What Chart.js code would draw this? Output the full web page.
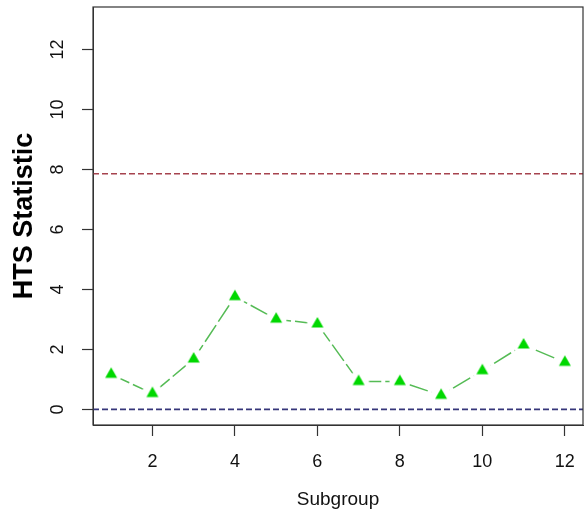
<!DOCTYPE html>
<html>
<head>
<meta charset="utf-8">
<script src="https://cdn.jsdelivr.net/npm/chart.js@4.4.1/dist/chart.umd.min.js"></script>
<style>
  html, body { margin: 0; padding: 0; background: #ffffff; }
  #wrap { width: 585px; height: 515px; }
</style>
</head>
<body>
<div id="wrap"><canvas id="c" width="585" height="515"></canvas></div>
<script>
// ---- data ----
const subgroups = [1, 2, 3, 4, 5, 6, 7, 8, 9, 10, 11, 12];
const htsValues = [1.17, 0.53, 1.68, 3.76, 3.01, 2.85, 0.93, 0.93, 0.47, 1.29, 2.15, 1.57];
const upperLimit = 7.86;
const centerLine = 0;
const xTickValues = [2, 4, 6, 8, 10, 12];
const yTickValues = [0, 2, 4, 6, 8, 10, 12];
const xRange = [0.56, 12.44];
const yRange = [-0.52, 13.42];

const FONT = '"Liberation Sans", Arial, Helvetica, sans-serif';

// marker: green filled triangle with a white halo (gap like R type="b")
function makeMarker() {
  const s = 24;
  const cv = document.createElement('canvas');
  cv.width = s; cv.height = s;
  const g = cv.getContext('2d');
  const c = s / 2;
  g.fillStyle = '#ffffff';
  g.beginPath(); g.arc(c, c, 10.5, 0, Math.PI * 2); g.fill();
  const side = 12, h = side * Math.sqrt(3) / 2;
  g.fillStyle = '#00D800';
  g.beginPath();
  g.moveTo(c, c - 2 * h / 3);
  g.lineTo(c + side / 2, c + h / 3);
  g.lineTo(c - side / 2, c + h / 3);
  g.closePath(); g.fill();
  return cv;
}
const marker = makeMarker();

const htsData = subgroups.map((s, i) => ({ x: s, y: htsValues[i] }));
const limitData = xRange.map(x => ({ x: x, y: upperLimit }));
const centerData = xRange.map(x => ({ x: x, y: centerLine }));

const boxPlugin = {
  id: 'box',
  afterDraw(chart) {
    const a = chart.chartArea, ctx = chart.ctx;
    ctx.save();
    ctx.strokeStyle = '#333333';
    ctx.lineWidth = 1.2;
    ctx.strokeRect(a.left, a.top, a.right - a.left, a.bottom - a.top);
    ctx.restore();
  }
};

function zeroPad(s) {
  s.paddingTop = 0; s.paddingBottom = 0; s.paddingLeft = 0; s.paddingRight = 0;
}

new Chart(document.getElementById('c'), {
  type: 'line',
  data: {
    datasets: [
      {
        label: 'HTS',
        data: htsData,
        borderColor: '#55BB55',
        borderWidth: 1.5,
        borderDash: [20, 4],
        pointStyle: marker,
        pointRadius: 10,
        pointHoverRadius: 10,
        fill: false,
        tension: 0
      },
      {
        label: 'UCL',
        data: limitData,
        borderColor: '#A6434E',
        borderWidth: 1.6,
        borderDash: [6, 3],
        pointRadius: 0,
        fill: false
      },
      {
        label: 'Center',
        data: centerData,
        borderColor: '#36367A',
        borderWidth: 1.6,
        borderDash: [6, 3],
        pointRadius: 0,
        fill: false
      }
    ]
  },
  options: {
    responsive: false,
    animation: false,
    devicePixelRatio: 1,
    layout: { autoPadding: false, padding: { left: 0, right: 2, top: 7, bottom: 0 } },
    plugins: {
      legend: { display: false },
      tooltip: { enabled: false },
      title: { display: false }
    },
    scales: {
      x: {
        type: 'linear',
        min: xRange[0],
        max: xRange[1],
        afterBuildTicks: s => { s.ticks = xTickValues.map(v => ({ value: v })); },
        afterFit: s => { s.height = 90; zeroPad(s); },
        border: { display: true, color: '#333333', width: 1 },
        grid: { drawOnChartArea: false, drawTicks: true, tickLength: 11, color: '#333333', tickColor: '#333333', tickWidth: 1.2 },
        ticks: {
          autoSkip: false,
          maxRotation: 0,
          minRotation: 0,
          padding: 15,
          color: '#111111',
          font: { family: FONT, size: 18 }
        },
        title: {
          display: true,
          text: 'Subgroup',
          color: '#111111',
          font: { family: FONT, size: 19 },
          padding: { top: 0, bottom: 4 }
        }
      },
      y: {
        type: 'linear',
        min: yRange[0],
        max: yRange[1],
        afterBuildTicks: s => { s.ticks = yTickValues.map(v => ({ value: v })); },
        afterFit: s => { s.width = 93; zeroPad(s); },
        border: { display: true, color: '#333333', width: 1 },
        grid: { drawOnChartArea: false, drawTicks: true, tickLength: 11, color: '#333333', tickColor: '#333333', tickWidth: 1.2 },
        ticks: {
          autoSkip: false,
          minRotation: 90,
          maxRotation: 90,
          crossAlign: 'center',
          padding: 14,
          color: '#111111',
          font: { family: FONT, size: 18 }
        },
        title: {
          display: true,
          text: 'HTS Statistic',
          color: '#000000',
          font: { family: FONT, size: 27, weight: 'bold' },
          padding: { top: 8, bottom: 0 }
        }
      }
    }
  },
  plugins: [boxPlugin]
});
</script>
</body>
</html>
